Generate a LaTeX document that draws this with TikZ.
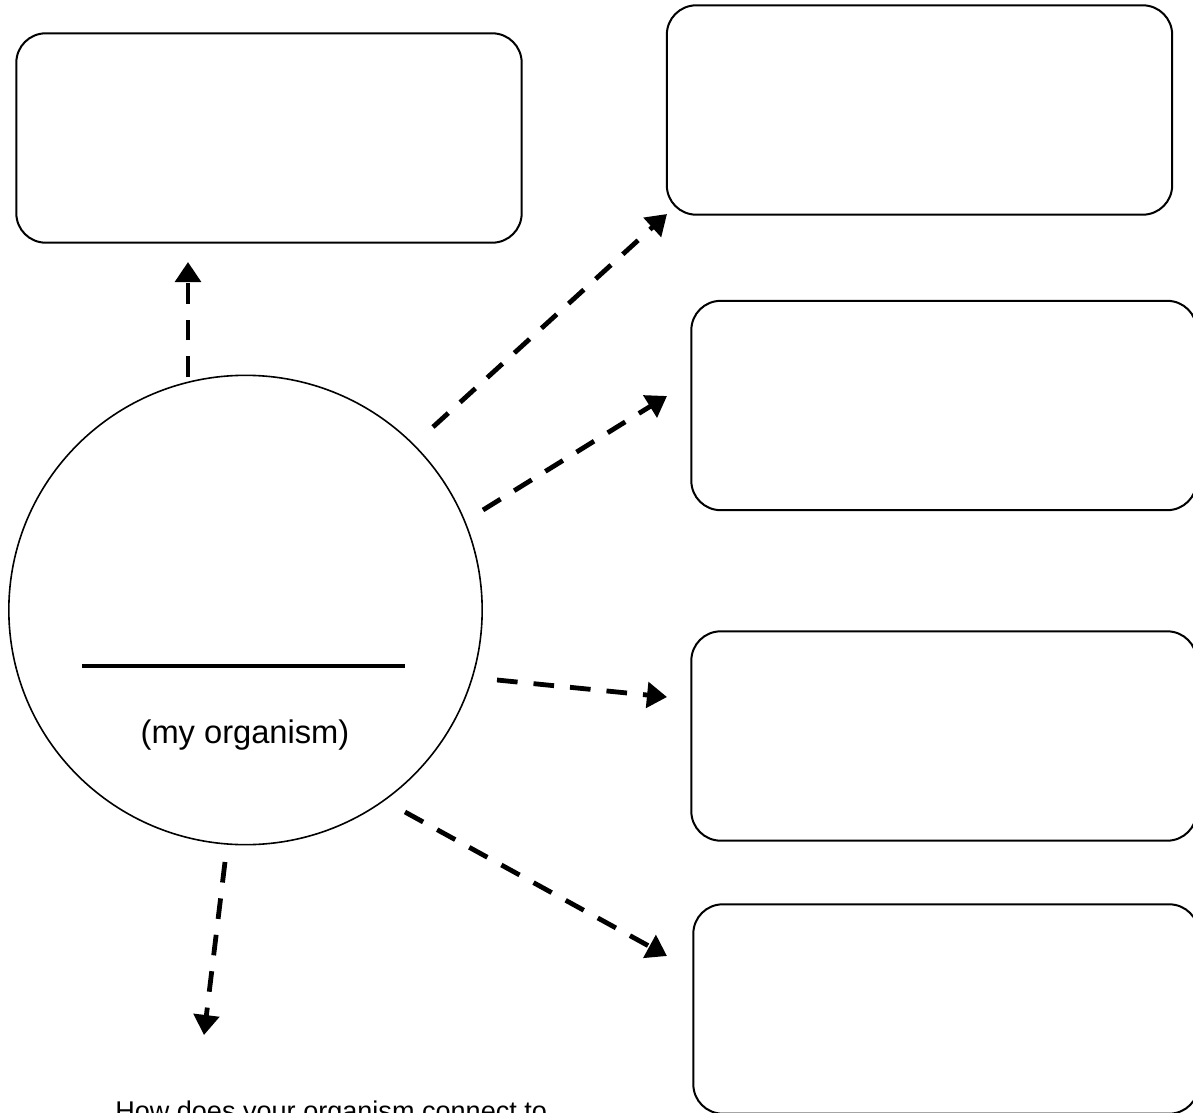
\documentclass[tikz,border=0pt]{standalone}
\usepackage{fontspec}
\setmainfont{Liberation Sans}
\usetikzlibrary{arrows.meta,shapes.geometric}
\begin{document}
\begin{tikzpicture}[x=0.75pt,y=-0.75pt,
  infobox/.style={draw,line width=1.5pt,rounded corners=22pt,minimum width=379pt,minimum height=157pt,inner sep=0pt},
  linkarrow/.style={line width=3.6pt,dash pattern=on 15.5pt off 12pt,-{Triangle[length=15pt,width=19pt]}},
  lbl/.style={inner sep=0pt}]
\useasboundingbox (0,0) rectangle (1193,1113);
\node[infobox] (boxA) at (269,138) {};
\node[infobox] (boxB) at (919.5,110) {};
\node[infobox] (boxC) at (944,405.5) {};
\node[infobox] (boxD) at (944,736) {};
\node[infobox] (boxE) at (946,1009) {};
\node[draw,ellipse,line width=1.2pt,minimum width=355pt,minimum height=352pt,inner sep=0pt] (org) at (245.5,610) {};
\coordinate (ulA) at (82,666);
\coordinate (ulB) at (405,666);
\draw[line width=2.6pt] (ulA) -- (ulB);
\node[lbl,font=\fontsize{24.5}{28}\selectfont] (name) at (245,735) {(my organism)};
\node[lbl,anchor=base west,font=\fontsize{20.3}{24}\selectfont] (q) at (115,1120) {How does your organism connect to};
% arrow ends
\coordinate (a1s) at (188,377); \coordinate (a1e) at (188,262);
\coordinate (a2s) at (433,427); \coordinate (a2e) at (667,214);
\coordinate (a3s) at (483,510); \coordinate (a3e) at (667,396);
\coordinate (a4s) at (497,680); \coordinate (a4e) at (667,697);
\coordinate (a5s) at (405,812); \coordinate (a5e) at (667,956);
\coordinate (a6s) at (225,862); \coordinate (a6e) at (204,1035);
\draw[linkarrow] (a1s) -- (a1e);
\draw[linkarrow] (a2s) -- (a2e);
\draw[linkarrow] (a3s) -- (a3e);
\draw[linkarrow] (a4s) -- (a4e);
\draw[linkarrow] (a5s) -- (a5e);
\draw[linkarrow] (a6s) -- (a6e);
\end{tikzpicture}
\end{document}
